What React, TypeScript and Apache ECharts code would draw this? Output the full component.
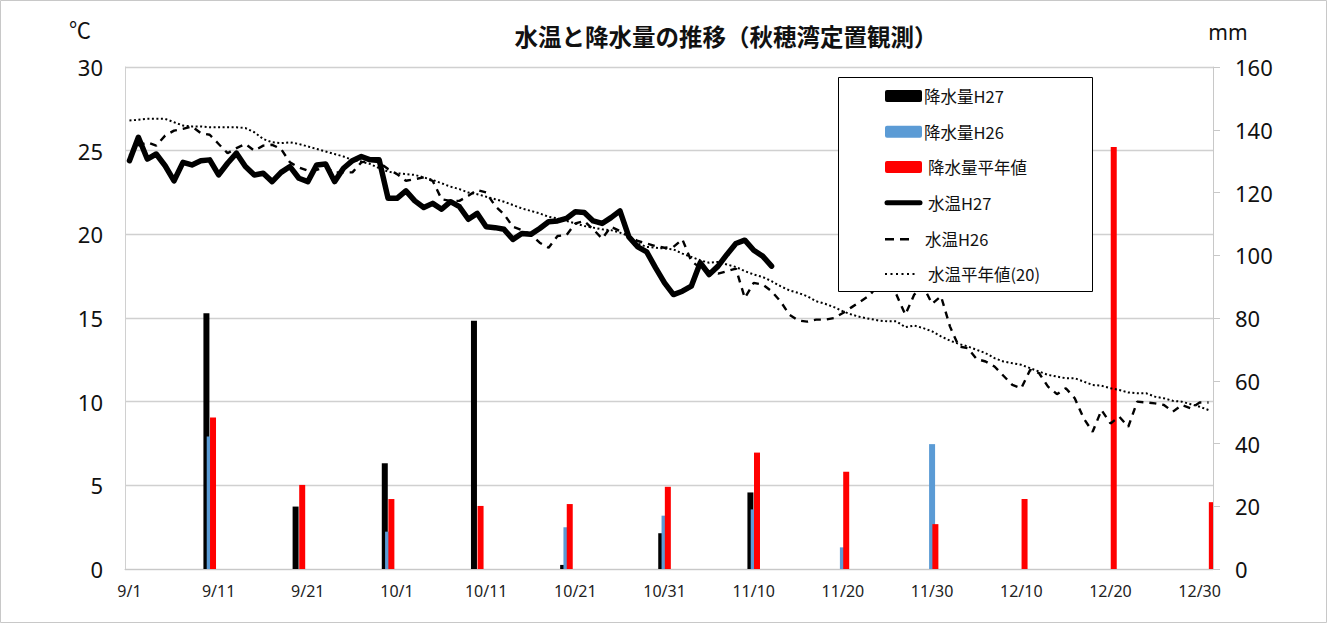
import React, { useEffect, useRef } from 'react';
import * as echarts from 'echarts';

// ---- categories: every day from 9/1 to 12/31 ----
const monthLengths: [number, number][] = [[9, 30], [10, 31], [11, 30], [12, 31]];
const dates: string[] = [];
for (const [m, n] of monthLengths) for (let d = 1; d <= n; d++) dates.push(`${m}/${d}`);

// ---- precipitation (mm), plotted at the end of each 10-day period ----
const rainDates = ['9/10', '9/20', '9/30', '10/10', '10/20', '10/31', '11/10', '11/20', '11/30', '12/10', '12/20', '12/31'];
const rainH27 = [81.5, 19.9, 33.7, 79.1, 1.3, 11.4, 24.4, null, null, null, null, null];
const rainH26 = [42.2, 0, 11.9, 0, 13.3, 17.0, 19.0, 6.9, 39.8, 0, 0, 0];
const rainNormal = [48.3, 26.8, 22.3, 20.1, 20.7, 26.2, 37.1, 31.0, 14.3, 22.3, 134.5, 21.3];

// ---- water temperature (°C), daily from 9/1 ----
const tempH27 = [
  24.4, 25.8, 24.5, 24.8, 24.1, 23.2, 24.3, 24.15, 24.4, 24.45,
  23.55, 24.25, 24.85, 24.05, 23.55, 23.65, 23.15, 23.7, 24.05, 23.35,
  23.15, 24.15, 24.2, 23.15, 23.95, 24.4, 24.65, 24.45, 24.45, 22.15,
  22.15, 22.6, 22.0, 21.6, 21.85, 21.5, 21.95, 21.65, 20.9, 21.25,
  20.45, 20.4, 20.3, 19.7, 20.05, 20.0, 20.35, 20.75, 20.8, 20.95,
  21.35, 21.3, 20.8, 20.65, 21.0, 21.4, 19.85, 19.25, 18.95, 18.0,
  17.1, 16.4, 16.6, 16.9, 18.3, 17.6, 18.1, 18.8, 19.45, 19.65,
  19.05, 18.7, 18.1,
];
const tempH26 = [
  24.7, 25.3, 25.5, 25.3, 25.9, 26.2, 26.3, 26.45, 26.05, 25.95,
  25.4, 24.85, 25.15, 25.4, 25.0, 25.3, 25.35, 25.1, 24.3, 24.0,
  23.8, 23.85, 24.0, 23.7, 23.7, 23.7, 24.3, 24.4, 24.3, 23.9,
  23.6, 23.2, 23.3, 23.4, 23.2, 22.1, 22.0, 22.0, 22.3, 22.65,
  22.5, 21.7, 21.2, 20.45, 20.25, 20.0, 19.5, 19.2, 19.9, 19.95,
  20.65, 20.8, 20.3, 19.75, 20.45, 20.2, 19.9, 19.6, 19.45, 19.3,
  19.2, 19.25, 19.7, 18.4, 18.0, 17.8, 17.65, 17.8, 17.95, 16.2,
  17.1, 17.0, 16.6, 16.0, 15.2, 14.85, 14.78, 14.9, 14.9, 15.0,
  15.3, 15.65, 16.0, 16.35, 17.0, 17.3, 16.4, 15.2, 16.4, 16.9,
  15.85, 16.3, 14.5, 13.3, 13.2, 12.55, 12.4, 12.1, 11.55, 11.0,
  10.8, 11.9, 11.7, 10.9, 10.45, 10.8, 10.2, 9.0, 8.2, 9.5,
  8.7, 9.1, 8.5, 10.0, 9.95, 9.9, 9.8, 9.4, 9.8, 9.6,
  9.95, 9.95,
];
const tempNormal = [
  26.8, 26.85, 26.9, 26.9, 26.9, 26.7, 26.5, 26.45, 26.45, 26.4,
  26.4, 26.4, 26.4, 26.35, 26.1, 25.7, 25.5, 25.45, 25.5, 25.4,
  25.25, 25.1, 24.95, 24.8, 24.65, 24.45, 24.35, 24.2, 23.95, 23.75,
  23.65, 23.6, 23.55, 23.4, 23.25, 23.05, 22.85, 22.7, 22.5, 22.4,
  22.25, 22.1, 21.95, 21.75, 21.55, 21.4, 21.25, 21.05, 20.95, 20.8,
  20.65, 20.5, 20.4, 20.3, 20.25, 20.1, 19.9, 19.45, 19.25, 19.2,
  19.15, 19.1, 18.85, 18.65, 18.45, 18.3, 18.35, 18.2, 18.05, 17.8,
  17.6, 17.45, 17.2, 16.9, 16.65, 16.5, 16.3, 16.0, 15.85, 15.65,
  15.4, 15.2, 15.05, 14.95, 14.85, 14.8, 14.8, 14.45, 14.55, 14.4,
  14.2, 13.9, 13.65, 13.45, 13.3, 13.1, 12.9, 12.6, 12.4, 12.3,
  12.2, 12.0, 11.8, 11.6, 11.5, 11.4, 11.4, 11.2, 11.0, 10.95,
  10.8, 10.7, 10.55, 10.5, 10.5, 10.3, 10.2, 10.05, 10.0, 9.85,
  9.7, 9.5,
];

const legendNames = ['降水量H27', '降水量H26', '降水量平年値', '水温H27', '水温H26', '水温平年値(20)'];
const yLeftTicks = { min: 0, max: 30, interval: 5 };
const yRightTicks = { min: 0, max: 160, interval: 20 };

const FONT = "'Noto Sans', 'Noto Sans CJK JP', sans-serif";
const JFONT = "'Noto Sans CJK JP', 'Noto Sans', sans-serif";

const BLACK = '#000000';
const BLUE = '#5B9BD5';
const RED = '#FF0000';

function toDaily(vals: (number | null)[]) {
  const out: (number | null)[] = dates.map(() => null);
  rainDates.forEach((d, k) => {
    const idx = dates.indexOf(d);
    if (idx >= 0) out[idx] = vals[k];
  });
  return out;
}

function padDaily(vals: number[]) {
  return dates.map((_, i) => (i < vals.length ? vals[i] : null));
}

// hand-drawn legend (box + icons + texts)
function buildLegend() {
  const rowsY = [96, 131.7, 166.9, 202.7, 239.2, 274];
  const textX = [924, 924, 928, 928, 925, 928];
  const els: any[] = [
    {
      type: 'rect',
      z: 10,
      shape: { x: 838.5, y: 77.5, width: 254, height: 214 },
      style: { fill: '#ffffff', stroke: '#000000', lineWidth: 1 },
    },
  ];
  const barColors = [BLACK, BLUE, RED];
  for (let k = 0; k < 3; k++) {
    els.push({
      type: 'rect',
      z: 11,
      shape: { x: 885, y: rowsY[k] - 6, width: 37, height: 12, r: 2 },
      style: { fill: barColors[k] },
    });
  }
  els.push({
    type: 'line',
    z: 11,
    shape: { x1: 887, y1: rowsY[3], x2: 920, y2: rowsY[3] },
    style: { stroke: BLACK, lineWidth: 5, lineCap: 'round' },
  });
  els.push({
    type: 'line',
    z: 11,
    shape: { x1: 885, y1: rowsY[4], x2: 910, y2: rowsY[4] },
    style: { stroke: BLACK, lineWidth: 2.4, lineDash: [9, 6] },
  });
  els.push({
    type: 'line',
    z: 11,
    shape: { x1: 885, y1: rowsY[5], x2: 918, y2: rowsY[5] },
    style: { stroke: BLACK, lineWidth: 2, lineDash: [2, 3.5] },
  });
  legendNames.forEach((name, k) => {
    els.push({
      type: 'text',
      z: 11,
      x: textX[k],
      y: rowsY[k],
      style: {
        text: name,
        fontSize: 16.5,
        fontFamily: JFONT,
        fill: '#111',
        align: 'left',
        verticalAlign: 'middle',
      },
    });
  });
  return els;
}

export default function App() {
  const ref = useRef<HTMLDivElement>(null);
  useEffect(() => {
    if (!ref.current) return;
    const chart = echarts.init(ref.current, undefined, { renderer: 'svg' });
    const barCommon = { type: 'bar', yAxisIndex: 1, barWidth: 6, barGap: '-45%', z: 2 };
    chart.setOption({
      animation: false,
      backgroundColor: '#ffffff',
      grid: { left: 125, right: 115, top: 67, bottom: 58, containLabel: false },
      xAxis: {
        type: 'category',
        data: dates,
        boundaryGap: true,
        axisLine: { show: true, lineStyle: { color: '#c8c8c8', width: 1 } },
        axisTick: { show: false },
        axisLabel: { interval: 9, fontSize: 16, color: '#222', margin: 14, fontFamily: FONT },
        splitLine: { show: false },
      },
      yAxis: [
        {
          type: 'value',
          ...yLeftTicks,
          position: 'left',
          axisLine: { show: true, lineStyle: { color: '#d0d0d0', width: 1 } },
          axisTick: { show: false },
          axisLabel: { fontSize: 22, color: '#111', margin: 22, fontFamily: FONT },
          splitLine: { show: true, lineStyle: { color: '#d0d0d0', width: 1.3 } },
        },
        {
          type: 'value',
          ...yRightTicks,
          position: 'right',
          axisLine: { show: true, lineStyle: { color: '#c8c8c8', width: 1 } },
          axisTick: { show: true, inside: false, length: 7, lineStyle: { color: '#c8c8c8' } },
          axisLabel: { fontSize: 22, color: '#111', margin: 22, fontFamily: FONT },
          splitLine: { show: false },
        },
      ],
      graphic: [
        {
          type: 'rect',
          z: 0,
          silent: true,
          shape: { x: 0.5, y: 0.5, width: 1326, height: 622 },
          style: { fill: 'none', stroke: '#c8c8c8', lineWidth: 1 },
        },
        ...buildLegend(),
        {
          type: 'text',
          z: 10,
          x: 726,
          y: 36,
          style: {
            text: '水温と降水量の推移（秋穂湾定置観測）',
            fontSize: 23.5,
            fontWeight: 'bold',
            fontFamily: JFONT,
            fill: '#111',
            align: 'center',
            verticalAlign: 'middle',
          },
        },
        {
          type: 'text',
          z: 10,
          x: 80,
          y: 28,
          style: { text: '℃', fontSize: 22, fontFamily: JFONT, fill: '#111', align: 'center', verticalAlign: 'middle' },
        },
        {
          type: 'text',
          z: 10,
          x: 1228,
          y: 32,
          style: { text: 'mm', fontSize: 21, fontFamily: FONT, fill: '#111', align: 'center', verticalAlign: 'middle' },
        },
      ],
      series: [
        { ...barCommon, name: legendNames[0], data: toDaily(rainH27), itemStyle: { color: BLACK } },
        { ...barCommon, name: legendNames[1], data: toDaily(rainH26), itemStyle: { color: BLUE } },
        { ...barCommon, name: legendNames[2], data: toDaily(rainNormal), itemStyle: { color: RED } },
        {
          type: 'line',
          name: legendNames[3],
          yAxisIndex: 0,
          data: padDaily(tempH27),
          symbol: 'none',
          z: 5,
          lineStyle: { color: BLACK, width: 5.5, join: 'round', cap: 'round' },
          itemStyle: { color: BLACK },
        },
        {
          type: 'line',
          name: legendNames[4],
          yAxisIndex: 0,
          data: tempH26,
          symbol: 'none',
          z: 4,
          lineStyle: { color: BLACK, width: 2.4, type: [7, 6] },
          itemStyle: { color: BLACK },
        },
        {
          type: 'line',
          name: legendNames[5],
          yAxisIndex: 0,
          data: tempNormal,
          symbol: 'none',
          z: 4,
          lineStyle: { color: BLACK, width: 2, type: [2, 2.5] },
          itemStyle: { color: BLACK },
        },
      ],
    });
    return () => chart.dispose();
  }, []);
  return <div ref={ref} style={{ position: 'absolute', left: 0, top: 0, width: 1328, height: 627 }} />;
}
